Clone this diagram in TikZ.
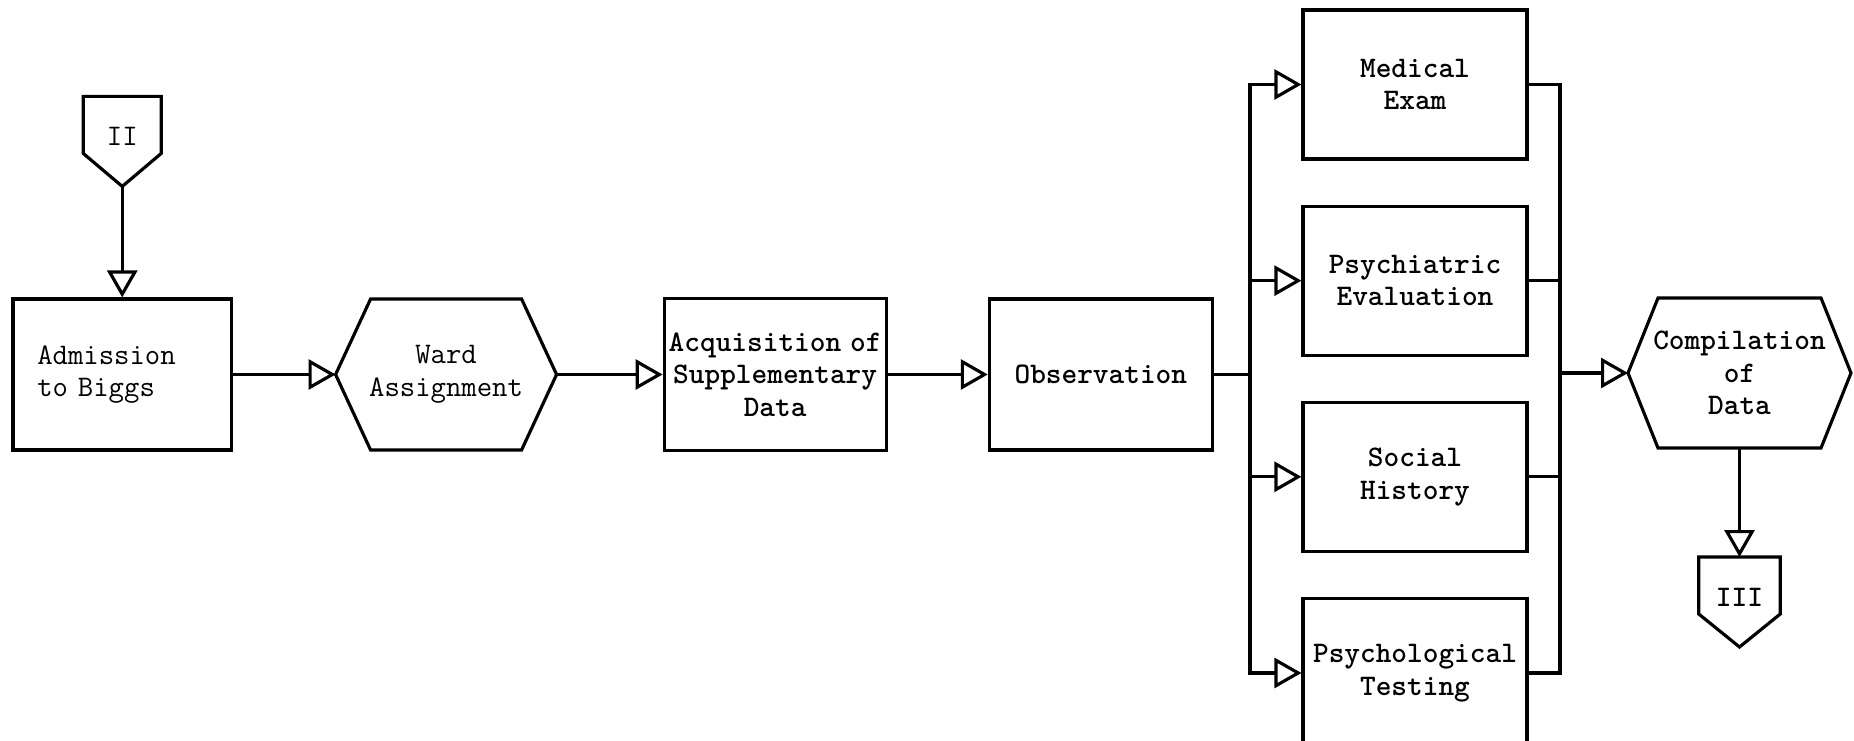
\documentclass[tikz,border=0pt]{standalone}
\usetikzlibrary{arrows.meta, positioning, calc}

\begin{document}
\begin{tikzpicture}[
    font=\ttfamily\fontsize{17}{18.5}\selectfont,
    line width=1.8pt,
    nd/.style={draw, align=center, minimum width=4.46cm, minimum height=3.02cm, inner sep=0pt},
    hexbox/.style={align=center, minimum width=4.42cm, minimum height=3.02cm, inner sep=0pt, outer sep=0pt},
    offpage/.style={align=center, minimum width=1.6cm, minimum height=1.8cm, inner sep=0pt, outer sep=0pt, text depth=0.2cm},
    hv/.style={font=\ttfamily\bfseries\fontsize{17}{18.5}\selectfont},
    ax/.style={-{Triangle[open, length=0.54cm, width=0.6cm]}},
    bus/.style={line cap=rect}
]
\useasboundingbox (0,0) rectangle (37.08,14.8);

\node[nd, minimum width=4.37cm, align=left, text width=3.4cm, inner xsep=0.485cm] (adm) at (2.445,7.31) {Admission\\to Biggs};
\node[hexbox, right=2.05cm of adm] (ward) {Ward\\Assignment};
\node[nd, hv, minimum width=4.44cm, minimum height=3.05cm, right=2.12cm of ward] (acq) {Acquisition\hspace{0.3em}of\\Supplementary\\Data};
\node[nd, hv, right=2.0cm of acq] (obs) {Observation};

\node[nd, hv, minimum width=4.48cm, minimum height=2.98cm] (med) at (28.30,13.11) {Medical\\Exam};
\node[nd, hv, minimum width=4.48cm, minimum height=2.98cm, below=0.88cm of med] (psy) {Psychiatric\\Evaluation};
\node[nd, hv, minimum width=4.48cm, minimum height=2.98cm, below=0.88cm of psy] (soc) {Social\\History};
\node[nd, hv, minimum width=4.48cm, minimum height=2.98cm, below=0.88cm of soc] (pst) {Psychological\\Testing};

\node[hexbox, hv, minimum width=4.46cm, minimum height=3.0cm] (comp) at (34.79,7.34) {Compilation\\of\\Data};

\node[offpage, minimum width=1.56cm, above=2.22cm of adm] (off2) {II};
\node[offpage, hv, minimum width=1.63cm, below=2.18cm of comp] (off3) {III};

% hexagons and off-page connectors
\foreach \n/\c in {ward/0.70, comp/0.60}
  \draw ($(\n.north west)+(\c,0)$) -- ($(\n.north east)-(\c,0)$) -- (\n.east)
     -- ($(\n.south east)-(\c,0)$) -- ($(\n.south west)+(\c,0)$) -- (\n.west) -- cycle;
\foreach \n in {off2, off3}
  \draw (\n.north west) -- (\n.north east) -- ([yshift=0.66cm]\n.south east)
     -- (\n.south) -- ([yshift=0.66cm]\n.south west) -- cycle;

\draw[ax] (off2) -- (adm);
\draw[ax] (adm) -- (ward);
\draw[ax] (ward) -- (acq);
\draw[ax] (acq) -- (obs);

% fan out and back in
\coordinate[right=0.72cm of obs] (lbus);
\coordinate[left=1.36cm of comp] (rbus);
\draw[bus] (obs) -- (lbus);
\draw[bus] (lbus |- med) -- (lbus |- pst);
\draw[bus] (rbus |- med) -- (rbus |- pst);
\foreach \b in {med, psy, soc, pst} {
  \draw[ax] (lbus |- \b) -- (\b);
  \draw[bus] (\b) -- (rbus |- \b);
}
\draw[ax] (rbus) -- (comp);
\draw[ax] (comp) -- (off3);
\end{tikzpicture}
\end{document}
